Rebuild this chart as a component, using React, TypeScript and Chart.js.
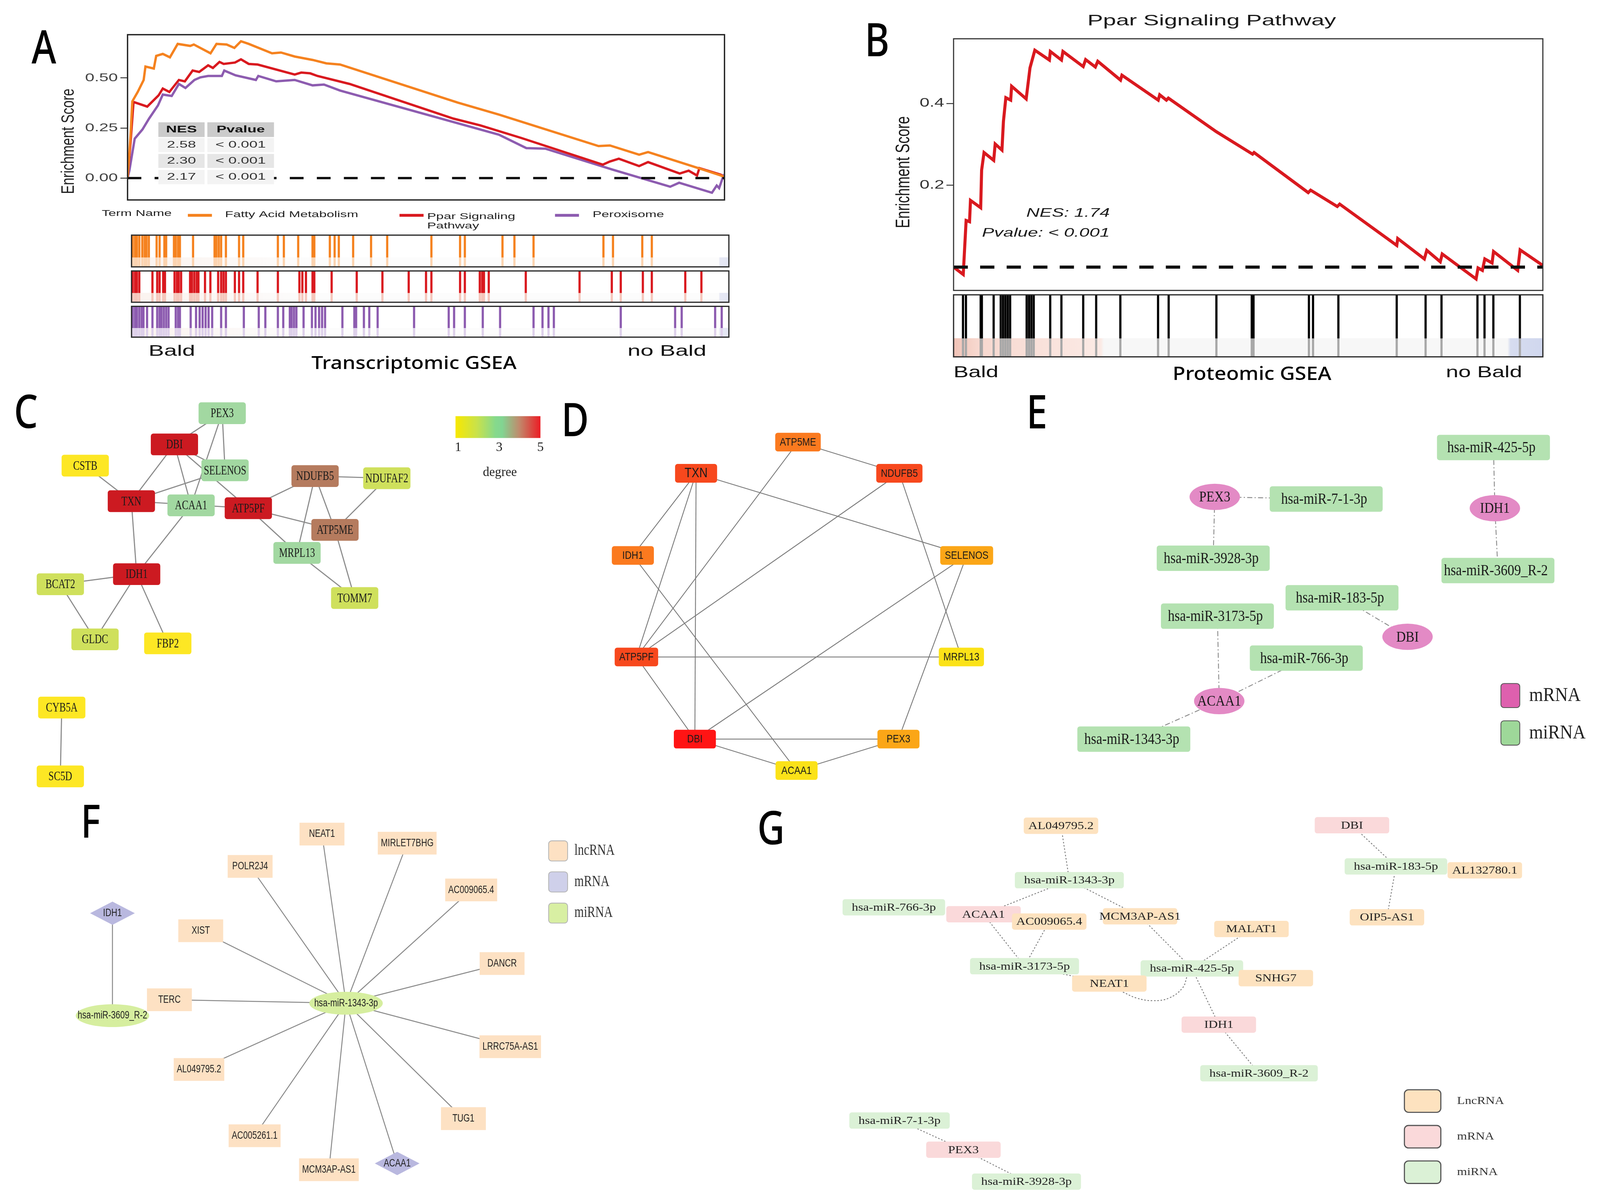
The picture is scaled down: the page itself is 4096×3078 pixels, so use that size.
import React, { useEffect, useRef } from "react";
import { Chart, registerables } from "chart.js";

Chart.register(...registerables);

const VW = 4096;
const VH = 3078;
const S = VW / 1568;
const p = (v: number) => v * S;

const SANS = '"Liberation Sans", Arial, sans-serif';
const SERIF = '"Liberation Serif", "Times New Roman", serif';
const NOTO = '"Noto Sans", "DejaVu Sans", sans-serif';

/* ======================= DATA ======================= */
// ---- Panel A (Transcriptomic GSEA) ----
const termNames = ["Fatty Acid Metabolism", "Ppar Signaling Pathway", "Peroxisome"];
const nesValues = ["2.58", "2.30", "2.17"];
const pValues = ["< 0.001", "< 0.001", "< 0.001"];
const aTickStep = 0.25;

const fattyRank = [0, 0.5, 0.8, 1.7, 2.7, 3.0, 4.4, 4.8, 5.9, 7.1, 8.4, 10.5, 11.1, 13.9, 14.9, 16.6, 17.9, 19.0, 20.3, 24.2, 25.7, 28.0, 31.0, 33.3, 35.6, 55.3, 62.2, 78.9, 80.8, 85.7, 87.2, 95.6, 99.4, 100];
const fattyES = [0, 0.21, 0.383, 0.43, 0.49, 0.557, 0.547, 0.61, 0.62, 0.603, 0.67, 0.66, 0.667, 0.623, 0.67, 0.667, 0.65, 0.683, 0.67, 0.623, 0.627, 0.607, 0.59, 0.573, 0.567, 0.377, 0.317, 0.16, 0.163, 0.117, 0.13, 0.05, 0.013, 0.005];

const pparRank = [0, 0.5, 1.0, 3.3, 5.2, 5.9, 7.0, 8.6, 9.6, 10.9, 12.0, 13.5, 14.3, 15.4, 16.1, 18.0, 19.0, 20.3, 21.8, 28.0, 29.1, 30.6, 31.8, 37.2, 54.6, 59.1, 66.0, 79.6, 80.8, 82.3, 85.7, 87.2, 92.5, 94.0, 95.4, 95.8, 99.4, 100];
const pparES = [0, 0.177, 0.38, 0.357, 0.413, 0.447, 0.43, 0.49, 0.483, 0.537, 0.53, 0.563, 0.55, 0.58, 0.57, 0.577, 0.593, 0.57, 0.567, 0.517, 0.527, 0.523, 0.51, 0.47, 0.297, 0.263, 0.2, 0.067, 0.083, 0.097, 0.06, 0.08, 0.023, 0.037, 0.013, 0.05, 0.017, 0.003];

const peroxRank = [0, 0.3, 1.2, 2.5, 3.6, 5.1, 5.9, 7.4, 8.6, 9.7, 11.2, 12.2, 13.5, 15.8, 16.2, 18.1, 21.5, 21.9, 24.9, 28.0, 31.0, 32.9, 35.6, 62.2, 66.8, 70.0, 81.2, 90.9, 92.4, 97.9, 98.7, 99.1, 99.8, 100];
const peroxES = [0, 0.037, 0.197, 0.243, 0.297, 0.363, 0.417, 0.41, 0.47, 0.45, 0.49, 0.503, 0.51, 0.51, 0.537, 0.513, 0.49, 0.51, 0.483, 0.49, 0.463, 0.467, 0.437, 0.217, 0.15, 0.147, 0.043, -0.043, -0.023, -0.073, -0.037, -0.05, 0.01, 0.0];

const fattyHits = [0.2, 0.6, 0.9, 1.3, 1.8, 2.2, 2.5, 2.9, 4.2, 4.7, 5.5, 5.8, 7.1, 7.4, 7.8, 8.1, 10.3, 13.9, 14.2, 14.6, 15.0, 15.8, 18.0, 18.7, 24.5, 25.5, 27.9, 30.3, 30.6, 33.2, 34.0, 34.7, 37.1, 40.1, 42.8, 50.2, 55.0, 55.8, 62.1, 64.1, 67.3, 79.0, 80.6, 85.5, 87.1];
const pparHits = [0.2, 0.6, 0.9, 1.3, 3.5, 4.3, 4.7, 5.3, 5.6, 7.2, 7.6, 7.9, 8.3, 9.8, 10.1, 10.5, 10.9, 11.2, 12.3, 13.2, 14.5, 15.0, 15.4, 15.8, 17.3, 18.0, 18.7, 21.1, 24.5, 28.1, 28.6, 29.2, 30.3, 30.6, 33.5, 37.7, 42.0, 46.4, 49.3, 50.2, 55.0, 55.8, 58.3, 58.7, 59.0, 59.8, 66.0, 75.0, 80.4, 81.9, 85.6, 87.1, 92.7, 95.4];
const peroxHits = [0.2, 0.6, 0.9, 1.3, 1.7, 2.0, 2.6, 3.5, 4.3, 4.7, 5.0, 5.4, 5.8, 6.2, 7.4, 7.8, 8.1, 9.9, 10.8, 11.4, 11.9, 12.4, 12.9, 13.5, 15.0, 15.8, 18.8, 21.3, 22.4, 24.5, 25.4, 26.5, 26.8, 27.2, 27.6, 28.8, 30.2, 30.8, 31.4, 31.9, 32.4, 35.3, 37.3, 37.6, 38.9, 39.8, 41.2, 47.3, 53.1, 54.0, 55.8, 58.8, 61.7, 67.3, 68.8, 69.8, 70.7, 81.9, 91.0, 92.1, 97.7, 98.8];

// ---- Panel B (Proteomic GSEA) ----
const bTitle = "Ppar Signaling Pathway";
const bNES = "1.74";
const bPvalue = "< 0.001";
const bTickStep = 0.2;
const bRank = [0, 1.64, 2.13, 2.71, 2.87, 4.6, 4.76, 5.17, 6.81, 7.06, 8.21, 8.46, 8.87, 9.69, 9.85, 12.32, 12.56, 12.97, 13.79, 16.26, 16.42, 18.31, 18.56, 22.0, 22.41, 24.06, 24.47, 28.33, 28.57, 34.73, 34.98, 36.12, 36.45, 44.58, 50.74, 50.99, 60.18, 60.59, 65.11, 65.52, 75.21, 75.37, 79.89, 80.3, 82.59, 82.92, 88.67, 89.0, 89.74, 90.15, 91.38, 91.63, 95.73, 96.14, 100];
const bES = [0, -0.018, 0.114, 0.111, 0.163, 0.145, 0.237, 0.28, 0.261, 0.301, 0.286, 0.356, 0.414, 0.408, 0.442, 0.411, 0.439, 0.487, 0.53, 0.506, 0.527, 0.506, 0.527, 0.49, 0.507, 0.489, 0.503, 0.457, 0.469, 0.408, 0.421, 0.408, 0.413, 0.331, 0.276, 0.28, 0.182, 0.188, 0.148, 0.154, 0.053, 0.07, 0.02, 0.041, 0.013, 0.032, -0.029, -0.002, -0.008, 0.02, 0.01, 0.038, -0.008, 0.042, 0.004];
const bHits = [1.6, 2.1, 4.6, 4.8, 6.8, 8.0, 8.4, 8.8, 9.2, 9.6, 12.4, 12.8, 13.2, 13.6, 16.4, 18.3, 22.0, 24.2, 28.3, 34.7, 36.5, 44.6, 50.6, 50.9, 60.3, 61.0, 65.3, 75.2, 80.1, 82.8, 88.9, 90.1, 91.6, 96.1];

// ---- Panels C & D (PPI networks) ----
const hubEdges: [string, string][] = [
  ["TXN", "SELENOS"], ["TXN", "IDH1"], ["TXN", "ATP5PF"], ["TXN", "DBI"],
  ["ATP5ME", "NDUFB5"], ["ATP5ME", "ATP5PF"], ["NDUFB5", "ATP5PF"], ["NDUFB5", "MRPL13"],
  ["IDH1", "ACAA1"], ["SELENOS", "DBI"], ["SELENOS", "PEX3"], ["ATP5PF", "MRPL13"],
  ["ATP5PF", "DBI"], ["DBI", "PEX3"], ["DBI", "ACAA1"], ["PEX3", "ACAA1"],
];
const cExtraEdges: [string, string][] = [
  ["CSTB", "TXN"], ["NDUFB5", "NDUFAF2"], ["NDUFAF2", "ATP5ME"], ["ATP5ME", "TOMM7"],
  ["MRPL13", "TOMM7"], ["IDH1", "BCAT2"], ["IDH1", "GLDC"], ["IDH1", "FBP2"],
  ["BCAT2", "GLDC"], ["CYB5A", "SC5D"],
];
const cNodes: [string, number, number][] = [
  ["PEX3", 217.7, 405.1], ["DBI", 170.9, 435.7], ["CSTB", 83.5, 456.5], ["SELENOS", 220.5, 461.1],
  ["NDUFB5", 308.7, 466.7], ["NDUFAF2", 379.0, 468.8], ["TXN", 128.7, 491.3], ["ACAA1", 187.2, 495.4],
  ["ATP5PF", 243.3, 498.2], ["ATP5ME", 328.2, 519.4], ["MRPL13", 291.0, 542.0], ["IDH1", 133.9, 562.8],
  ["BCAT2", 59.1, 572.7], ["TOMM7", 347.5, 586.2], ["GLDC", 93.1, 626.7], ["FBP2", 164.4, 630.6],
  ["CYB5A", 60.5, 693.5], ["SC5D", 59.1, 760.9],
];
const degreeTicks = [1, 3, 5];
// [gene, x, y, hub rank]
const dNodes: [string, number, number, number][] = [
  ["ATP5ME", 782.0, 433.3, 5], ["TXN", 682.1, 463.9, 2], ["NDUFB5", 881.4, 463.9, 3],
  ["IDH1", 620.1, 544.4, 6], ["SELENOS", 947.4, 544.4, 7], ["ATP5PF", 623.6, 643.9, 4],
  ["MRPL13", 942.2, 643.9, 9], ["DBI", 680.9, 724.4, 1], ["PEX3", 880.5, 724.4, 8],
  ["ACAA1", 780.6, 755.2, 10],
];

// ---- Panel E (mRNA-miRNA) ----
const eMirna: [string, number, number][] = [
  ["hsa-miR-425-5p", 1463.6, 438.6], ["hsa-miR-7-1-3p", 1299.7, 489.1], ["hsa-miR-3928-3p", 1189.0, 547.1],
  ["hsa-miR-3609_R-2", 1468.0, 559.2], ["hsa-miR-183-5p", 1315.2, 585.9], ["hsa-miR-3173-5p", 1193.1, 603.9],
  ["hsa-miR-766-3p", 1280.2, 645.0], ["hsa-miR-1343-3p", 1111.2, 724.4],
];
const eMrna: [string, number, number][] = [
  ["PEX3", 1190.5, 487.0], ["IDH1", 1465.0, 498.1], ["DBI", 1379.4, 624.1], ["ACAA1", 1194.9, 687.1],
];
const eEdges: [string, string][] = [
  ["PEX3", "hsa-miR-7-1-3p"], ["PEX3", "hsa-miR-3928-3p"], ["IDH1", "hsa-miR-425-5p"], ["IDH1", "hsa-miR-3609_R-2"],
  ["DBI", "hsa-miR-183-5p"], ["ACAA1", "hsa-miR-3173-5p"], ["ACAA1", "hsa-miR-766-3p"], ["ACAA1", "hsa-miR-1343-3p"],
];

// ---- Panel F (ceRNA star) ----
const fLnc: [string, number, number][] = [
  ["NEAT1", 315.5, 817.5], ["MIRLET7BHG", 399.0, 826.4], ["POLR2J4", 245.1, 849.2], ["AC009065.4", 461.7, 872.3],
  ["XIST", 196.7, 912.3], ["DANCR", 492.0, 944.5], ["TERC", 166.0, 980.0], ["LRRC75A-AS1", 500.0, 1026.1],
  ["AL049795.2", 195.0, 1048.4], ["TUG1", 454.1, 1096.6], ["AC005261.1", 249.5, 1113.4], ["MCM3AP-AS1", 322.3, 1146.7],
];
const fMrna: [string, number, number][] = [["IDH1", 110.2, 895.1], ["ACAA1", 389.2, 1140.6]];
const fMirna: [string, number, number][] = [["hsa-miR-1343-3p", 339.1, 983.4], ["hsa-miR-3609_R-2", 110.2, 995.6]];
const fEdges: [string, string][] = [
  ["NEAT1", "hsa-miR-1343-3p"], ["MIRLET7BHG", "hsa-miR-1343-3p"], ["POLR2J4", "hsa-miR-1343-3p"],
  ["AC009065.4", "hsa-miR-1343-3p"], ["XIST", "hsa-miR-1343-3p"], ["DANCR", "hsa-miR-1343-3p"],
  ["TERC", "hsa-miR-1343-3p"], ["LRRC75A-AS1", "hsa-miR-1343-3p"], ["AL049795.2", "hsa-miR-1343-3p"],
  ["TUG1", "hsa-miR-1343-3p"], ["AC005261.1", "hsa-miR-1343-3p"], ["MCM3AP-AS1", "hsa-miR-1343-3p"],
  ["ACAA1", "hsa-miR-1343-3p"], ["IDH1", "hsa-miR-3609_R-2"],
];

// ---- Panel G (ceRNA network) ----
const gNodes: [string, number, number, string][] = [
  ["AL049795.2", 1039.7, 809.3, "lnc"], ["DBI", 1324.9, 808.8, "mrna"], ["hsa-miR-1343-3p", 1047.9, 862.7, "mirna"],
  ["hsa-miR-183-5p", 1368.0, 849.2, "mirna"], ["AL132780.1", 1455.1, 853.0, "lnc"], ["hsa-miR-766-3p", 875.9, 889.3, "mirna"],
  ["ACAA1", 963.8, 896.1, "mrna"], ["AC009065.4", 1028.2, 903.3, "lnc"], ["MCM3AP-AS1", 1117.2, 898.1, "lnc"],
  ["OIP5-AS1", 1359.2, 899.1, "lnc"], ["MALAT1", 1226.4, 910.6, "lnc"], ["hsa-miR-3173-5p", 1004.0, 947.1, "mirna"],
  ["hsa-miR-425-5p", 1168.0, 949.3, "mirna"], ["SNHG7", 1250.3, 958.8, "lnc"], ["NEAT1", 1087.1, 964.1, "lnc"],
  ["IDH1", 1194.4, 1004.4, "mrna"], ["hsa-miR-3609_R-2", 1233.8, 1052.1, "mirna"], ["hsa-miR-7-1-3p", 881.5, 1098.5, "mirna"],
  ["PEX3", 944.1, 1127.1, "mrna"], ["hsa-miR-3928-3p", 1005.9, 1158.4, "mirna"],
];
const gEdges: [string, string][] = [
  ["AL049795.2", "hsa-miR-1343-3p"], ["hsa-miR-1343-3p", "ACAA1"], ["hsa-miR-1343-3p", "MCM3AP-AS1"],
  ["ACAA1", "hsa-miR-3173-5p"], ["AC009065.4", "hsa-miR-3173-5p"], ["MCM3AP-AS1", "hsa-miR-425-5p"],
  ["MALAT1", "hsa-miR-425-5p"], ["hsa-miR-425-5p", "IDH1"], ["IDH1", "hsa-miR-3609_R-2"],
  ["hsa-miR-3173-5p", "NEAT1"], ["DBI", "hsa-miR-183-5p"], ["hsa-miR-183-5p", "OIP5-AS1"],
  ["hsa-miR-7-1-3p", "PEX3"], ["PEX3", "hsa-miR-3928-3p"],
];
// curved NEAT1 -> hsa-miR-425-5p edge route
const gCurveRoute: [number, number][] = [[1100.4, 972.5], [1113.7, 978.3], [1129.7, 980.9], [1145.7, 978.3], [1159.0, 968.2], [1163.2, 957.3]];

/* ======================= STYLE ======================= */
const COL = { fatty: "#f5821f", ppar: "#d9191f", perox: "#8d5cb0" };
const PALE = { fatty: "#fbd3b0", ppar: "#f5c6bb", perox: "#ddd0ea" };
const degColor: Record<number, string> = { 1: "#fde724", 2: "#cfe05c", 3: "#a2d8a1", 4: "#b57b5e", 5: "#cc1a21" };
const dRankColors = ["#ff1414", "#f7481d", "#f7481d", "#f7481d", "#fb7a1f", "#fb7a1f", "#fba617", "#fba617", "#fbe218", "#fbe218"];

/* ======================= HELPERS ======================= */
type R4 = { x0: number; y0: number; x1: number; y1: number };
type TOpt = { size: number; family?: string; weight?: string; style?: string; align?: CanvasTextAlign; base?: CanvasTextBaseline; sx?: number; sy?: number; color?: string; rot?: number };

function fontOf(o: TOpt) {
  return `${o.style || "normal"} ${o.weight || "normal"} ${o.size}px ${o.family || SANS}`;
}
function T(ctx: CanvasRenderingContext2D, s: string, x: number, y: number, o: TOpt) {
  ctx.save();
  ctx.font = fontOf(o);
  ctx.fillStyle = o.color || "#111";
  ctx.textAlign = o.align || "center";
  ctx.textBaseline = o.base || "middle";
  ctx.translate(x, y);
  if (o.rot) ctx.rotate(o.rot);
  ctx.scale(o.sx || 1, o.sy || 1);
  ctx.fillText(s, 0, 0);
  ctx.restore();
}
function TW(ctx: CanvasRenderingContext2D, s: string, o: TOpt) {
  ctx.save();
  ctx.font = fontOf(o);
  const w = ctx.measureText(s).width * (o.sx || 1);
  ctx.restore();
  return w;
}
function letter(ctx: CanvasRenderingContext2D, ch: string, x: number, y: number) {
  T(ctx, ch, x, y, { size: p(45), family: NOTO, weight: "500", base: "alphabetic", sx: 0.82, color: "#000" });
}
function box(ctx: CanvasRenderingContext2D, cx: number, cy: number, w: number, h: number, fill: string, r = 0, stroke?: string, lw?: number) {
  ctx.save();
  ctx.beginPath();
  const anyCtx = ctx as any;
  if (r > 0 && anyCtx.roundRect) anyCtx.roundRect(cx - w / 2, cy - h / 2, w, h, r);
  else ctx.rect(cx - w / 2, cy - h / 2, w, h);
  ctx.fillStyle = fill;
  ctx.fill();
  if (stroke) {
    ctx.strokeStyle = stroke;
    ctx.lineWidth = lw || 1;
    ctx.stroke();
  }
  ctx.restore();
}
function ellipse(ctx: CanvasRenderingContext2D, cx: number, cy: number, rx: number, ry: number, fill: string) {
  ctx.save();
  ctx.beginPath();
  ctx.ellipse(cx, cy, rx, ry, 0, 0, Math.PI * 2);
  ctx.fillStyle = fill;
  ctx.fill();
  ctx.restore();
}
function diamond(ctx: CanvasRenderingContext2D, cx: number, cy: number, hw: number, hh: number, fill: string) {
  ctx.save();
  ctx.beginPath();
  ctx.moveTo(cx, cy - hh);
  ctx.lineTo(cx + hw, cy);
  ctx.lineTo(cx, cy + hh);
  ctx.lineTo(cx - hw, cy);
  ctx.closePath();
  ctx.fillStyle = fill;
  ctx.fill();
  ctx.restore();
}
function loc(R: R4) {
  const left = Math.round(p(R.x0));
  const top = Math.round(p(R.y0));
  return {
    left, top,
    w: Math.round(p(R.x1)) - left,
    h: Math.round(p(R.y1)) - top,
    x: (v: number) => p(v) - left,
    y: (v: number) => p(v) - top,
  };
}
function baseOpts(): any {
  return {
    responsive: false,
    maintainAspectRatio: false,
    animation: false,
    devicePixelRatio: 1,
    events: [],
    plugins: { legend: { display: false }, tooltip: { enabled: false }, title: { display: false } },
    elements: { point: { radius: 0 } },
  };
}
const ser = (xs: number[], ys: number[]) => xs.map((x, i) => ({ x, y: ys[i] }));
function posMap(...lists: [string, number, number, ...any[]][][]) {
  const m: Record<string, [number, number]> = {};
  lists.forEach((l) => l.forEach((n) => { m[n[0]] = [n[1], n[2]]; }));
  return m;
}
function edgeLines(edges: [string, string][], pm: Record<string, [number, number]>, style: any) {
  return edges.map(([a, b]) => ({ pts: [pm[a], pm[b]], ...style }));
}

/* ======================= CHART FACTORIES ======================= */
const RA: R4 = { x0: 0, y0: 0, x1: 760, y1: 229 };
const RR1: R4 = { x0: 100, y0: 229, x1: 740, y1: 264 };
const RR2: R4 = { x0: 100, y0: 264, x1: 740, y1: 298.5 };
const RR3: R4 = { x0: 100, y0: 298.5, x1: 740, y1: 376 };
const RB: R4 = { x0: 780, y0: 0, x1: 1560, y1: 287 };
const RBR: R4 = { x0: 900, y0: 287, x1: 1560, y1: 382 };
const RC: R4 = { x0: 0, y0: 376, x1: 545, y1: 780 };
const RD: R4 = { x0: 545, y0: 382, x1: 995, y1: 780 };
const RE: R4 = { x0: 995, y0: 382, x1: 1568, y1: 780 };
const RF: R4 = { x0: 0, y0: 780, x1: 720, y1: 1178 };
const RG: R4 = { x0: 720, y0: 780, x1: 1568, y1: 1178 };

function makeA(L: any) {
  const bx = { l: 125, t: 34, r: 710, b: 196 };
  const axW = p(8);
  return {
    type: "scatter",
    data: {
      datasets: [
        { data: [{ x: 0, y: 0 }, { x: 100, y: 0 }], showLine: true, borderColor: "#111", borderWidth: p(2.3), borderDash: [p(13.5), p(13)], pointRadius: 0 },
        { data: ser(fattyRank, fattyES), showLine: true, borderColor: COL.fatty, borderWidth: p(2.3), pointRadius: 0 },
        { data: ser(pparRank, pparES), showLine: true, borderColor: COL.ppar, borderWidth: p(2.3), pointRadius: 0 },
        { data: ser(peroxRank, peroxES), showLine: true, borderColor: COL.perox, borderWidth: p(2.3), pointRadius: 0 },
      ],
    },
    options: {
      ...baseOpts(),
      layout: { padding: { left: L.x(bx.l) - axW, top: L.y(bx.t), right: L.w - L.x(bx.r), bottom: L.h - L.y(bx.b) } },
      scales: {
        x: { type: "linear", display: false, min: 0, max: 100, offset: false },
        y: {
          type: "linear", min: -0.109, max: 0.716,
          afterFit: (s: any) => { s.width = axW; },
          ticks: { display: false, stepSize: aTickStep, includeBounds: false },
          grid: { drawOnChartArea: false, drawTicks: true, tickLength: p(7), color: "#333", lineWidth: p(0.9) },
          border: { display: false },
        },
      },
    },
    plugins: [{
      id: "panelA",
      afterDraw: (ch: any) => {
        const ctx = ch.ctx as CanvasRenderingContext2D;
        const ca = ch.chartArea;
        const ys = ch.scales.y;
        ctx.save();
        ctx.strokeStyle = "#222";
        ctx.lineWidth = p(1.3);
        ctx.strokeRect(ca.left, ca.top, ca.right - ca.left, ca.bottom - ca.top);
        ctx.restore();
        ys.ticks.forEach((t: any) => T(ctx, t.value.toFixed(2), L.x(115.5), ys.getPixelForValue(t.value), { size: p(11), align: "right", sx: 1.5, color: "#444" }));
        T(ctx, "Enrichment Score", L.x(67.5), L.y(138.5), { size: p(13), rot: -Math.PI / 2, sy: 1.35, color: "#222" });
        letter(ctx, "A", L.x(43), L.y(62));
        // NES / Pvalue table
        const cols = [[155.2, 200.5], [203.2, 268.5]];
        const rows = [[119.9, 134.3], [135.3, 149.2], [150.9, 164.6], [166.6, 180.6]];
        const headers = ["NES", "Pvalue"];
        const rowFill = ["#cbcbcb", "#f3f3f3", "#e6e6e6", "#f3f3f3"];
        rows.forEach((r, ri) => cols.forEach((c, ci) => {
          ctx.fillStyle = rowFill[ri];
          ctx.fillRect(L.x(c[0]), L.y(r[0]), p(c[1] - c[0]), p(r[1] - r[0]));
          const txt = ri === 0 ? headers[ci] : (ci === 0 ? nesValues : pValues)[ri - 1];
          T(ctx, txt, L.x((c[0] + c[1]) / 2), L.y((r[0] + r[1]) / 2), { size: p(9.2), sx: 1.6, weight: ri === 0 ? "bold" : "normal", color: ri === 0 ? "#111" : "#333" });
        }));
        // legend
        T(ctx, "Term Name", L.x(99.7), L.y(209.4), { size: p(8.3), sx: 1.6, align: "left", color: "#222" });
        const lg: [number, number, number, string, string][] = [
          [184.1, 207.7, 220.5, COL.fatty, termNames[0]],
          [391.5, 415.1, 418.6, COL.ppar, termNames[1]],
          [543.9, 567.4, 580.7, COL.perox, termNames[2]],
        ];
        lg.forEach(([a, b, tx, col, name], i) => {
          ctx.save();
          ctx.strokeStyle = col;
          ctx.lineWidth = p(2.8);
          ctx.beginPath();
          ctx.moveTo(L.x(a), L.y(211.1));
          ctx.lineTo(L.x(b), L.y(211.1));
          ctx.stroke();
          ctx.restore();
          if (i === 1) {
            const k = name.lastIndexOf(" ");
            T(ctx, name.slice(0, k), L.x(tx), L.y(212.4), { size: p(8.3), sx: 1.6, align: "left", color: "#222" });
            T(ctx, name.slice(k + 1), L.x(tx), L.y(221.6), { size: p(8.3), sx: 1.6, align: "left", color: "#222" });
          } else {
            T(ctx, name, L.x(tx), L.y(210.4), { size: p(8.3), sx: 1.6, align: "left", color: "#222" });
          }
        });
      },
    }],
  };
}

function makeRug(L: any, R: R4, bx: any, hits: number[], col: string, pale: string, band: string, labels?: (ctx: CanvasRenderingContext2D) => void) {
  return {
    type: "bar",
    data: {
      datasets: [
        { data: hits.map((x) => ({ x, y: [0.3, 1] })), backgroundColor: col, barThickness: p(1.9), grouped: false, borderWidth: 0 },
        { data: hits.map((x) => ({ x, y: [0, 0.3] })), backgroundColor: pale, barThickness: p(1.9), grouped: false, borderWidth: 0 },
      ],
    },
    options: {
      ...baseOpts(),
      layout: { padding: { left: L.x(bx.l), top: L.y(bx.t), right: L.w - L.x(bx.r), bottom: L.h - L.y(bx.b) } },
      scales: {
        x: { type: "linear", display: false, min: 0, max: 100, offset: false },
        y: { type: "linear", display: false, min: 0, max: 1 },
      },
    },
    plugins: [{
      id: "rug",
      beforeDatasetsDraw: (ch: any) => {
        const ctx = ch.ctx as CanvasRenderingContext2D;
        const ca = ch.chartArea;
        const yb = ch.scales.y.getPixelForValue(0.3);
        ctx.save();
        ctx.fillStyle = "#ffffff";
        ctx.fillRect(ca.left, ca.top, ca.right - ca.left, ca.bottom - ca.top);
        const g = ctx.createLinearGradient(ca.left, 0, ca.right, 0);
        if (band === "b") {
          g.addColorStop(0, "#f0c2b6");
          g.addColorStop(0.04, "#f7d8cf");
          g.addColorStop(0.25, "#fbeae5");
          g.addColorStop(0.255, "#f7f7f7");
          g.addColorStop(0.94, "#f7f7f7");
          g.addColorStop(0.945, "#d6dcef");
          g.addColorStop(1, "#d0d7ee");
        } else {
          g.addColorStop(0, "#fbf3ef");
          g.addColorStop(0.3, "#fcfcfc");
          g.addColorStop(0.983, "#fcfcfc");
          g.addColorStop(0.985, "#e6e8f4");
          g.addColorStop(1, "#e3e6f3");
        }
        ctx.fillStyle = g;
        ctx.fillRect(ca.left, yb, ca.right - ca.left, ca.bottom - yb);
        ctx.restore();
      },
      afterDraw: (ch: any) => {
        const ctx = ch.ctx as CanvasRenderingContext2D;
        const ca = ch.chartArea;
        ctx.save();
        ctx.strokeStyle = "#2a2a2a";
        ctx.lineWidth = p(1.2);
        ctx.strokeRect(ca.left, ca.top, ca.right - ca.left, ca.bottom - ca.top);
        ctx.restore();
        if (labels) labels(ctx);
      },
    }],
  };
}

function makeB(L: any) {
  const bx = { l: 934.5, t: 38, r: 1512, b: 284.7 };
  const axW = p(8);
  return {
    type: "scatter",
    data: {
      datasets: [
        { data: [{ x: 0, y: 0 }, { x: 100, y: 0 }], showLine: true, borderColor: "#111", borderWidth: p(3), borderDash: [p(14), p(12)], pointRadius: 0 },
        { data: ser(bRank, bES), showLine: true, borderColor: COL.ppar, borderWidth: p(3), pointRadius: 0 },
      ],
    },
    options: {
      ...baseOpts(),
      layout: { padding: { left: L.x(bx.l) - axW, top: L.y(bx.t), right: L.w - L.x(bx.r), bottom: L.h - L.y(bx.b) } },
      scales: {
        x: { type: "linear", display: false, min: 0, max: 100, offset: false },
        y: {
          type: "linear", min: -0.057, max: 0.558,
          afterFit: (s: any) => { s.width = axW; },
          afterBuildTicks: (s: any) => { s.ticks = s.ticks.filter((t: any) => t.value > 0.05); },
          ticks: { display: false, stepSize: bTickStep, includeBounds: false },
          grid: { drawOnChartArea: false, drawTicks: true, tickLength: p(7), color: "#333", lineWidth: p(0.9) },
          border: { display: false },
        },
      },
    },
    plugins: [{
      id: "panelB",
      afterDraw: (ch: any) => {
        const ctx = ch.ctx as CanvasRenderingContext2D;
        const ca = ch.chartArea;
        const ys = ch.scales.y;
        ctx.save();
        ctx.strokeStyle = "#333";
        ctx.lineWidth = p(1.1);
        ctx.strokeRect(ca.left, ca.top, ca.right - ca.left, ca.bottom - ca.top);
        ctx.restore();
        ys.ticks.forEach((t: any) => T(ctx, t.value.toFixed(1), L.x(925.4), ys.getPixelForValue(t.value), { size: p(12), align: "right", sx: 1.45, color: "#333" }));
        T(ctx, bTitle, L.x(1187.5), L.y(20.8), { size: p(15), sx: 1.53, color: "#1a1a1a" });
        T(ctx, "Enrichment Score", L.x(886), L.y(168.8), { size: p(13.8), rot: -Math.PI / 2, sy: 1.4, color: "#1a1a1a" });
        T(ctx, "NES: " + bNES, L.x(1087.6), L.y(209.1), { size: p(12.3), style: "italic", align: "right", sx: 1.46, color: "#1a1a1a" });
        T(ctx, "Pvalue: " + bPvalue, L.x(1087.6), L.y(228.7), { size: p(12.3), style: "italic", align: "right", sx: 1.46, color: "#1a1a1a" });
        letter(ctx, "B", L.x(859.5), L.y(55));
      },
    }],
  };
}

function netChart(R: R4, lines: any[], draw: (ctx: CanvasRenderingContext2D, X: (v: number) => number, Y: (v: number) => number) => void) {
  return {
    type: "scatter",
    data: {
      datasets: lines.map((l) => ({
        data: l.pts.map((q: [number, number]) => ({ x: q[0], y: q[1] })),
        showLine: true,
        borderColor: l.color,
        borderWidth: l.width,
        borderDash: l.dash || [],
        tension: l.tension || 0,
        pointRadius: 0,
        fill: false,
      })),
    },
    options: {
      ...baseOpts(),
      layout: { padding: 0 },
      scales: {
        x: { type: "linear", display: false, min: R.x0, max: R.x1 },
        y: { type: "linear", display: false, min: R.y0, max: R.y1, reverse: true },
      },
    },
    plugins: [{
      id: "net",
      afterDatasetsDraw: (ch: any) => {
        draw(ch.ctx, (v) => ch.scales.x.getPixelForValue(v), (v) => ch.scales.y.getPixelForValue(v));
      },
    }],
  };
}

function makeC() {
  const edges = [...hubEdges, ...cExtraEdges];
  const pm = posMap(cNodes);
  const deg: Record<string, number> = {};
  edges.forEach(([a, b]) => { deg[a] = (deg[a] || 0) + 1; deg[b] = (deg[b] || 0) + 1; });
  const lines = edgeLines(edges, pm, { color: "#8c8c8c", width: p(1.1) });
  return netChart(RC, lines, (ctx, X, Y) => {
    cNodes.forEach(([n, x, y]) => {
      box(ctx, X(x), Y(y), p(46.3), p(21.3), degColor[Math.min(5, deg[n] || 1)], p(2.5));
      T(ctx, n, X(x), Y(y) + p(0.6), { size: p(12.5), family: SERIF, sx: 0.76, color: "#1a1a1a" });
    });
    const gx0 = 446.3, gx1 = 529.5;
    const g = ctx.createLinearGradient(X(gx0), 0, X(gx1), 0);
    g.addColorStop(0, "#f8e800");
    g.addColorStop(0.25, "#c9e24a");
    g.addColorStop(0.47, "#86d98c");
    g.addColorStop(0.55, "#82d592");
    g.addColorStop(0.75, "#c08a6c");
    g.addColorStop(1, "#ec1c24");
    ctx.fillStyle = g;
    ctx.fillRect(X(gx0), Y(408), X(gx1) - X(gx0), Y(429.4) - Y(408));
    const dmin = degreeTicks[0], dmax = degreeTicks[degreeTicks.length - 1];
    degreeTicks.forEach((d) => {
      const xx = gx0 + 2.5 + ((d - dmin) / (dmax - dmin)) * (gx1 - gx0 - 2.5);
      T(ctx, String(d), X(xx), Y(438.9), { size: p(13), family: SERIF, color: "#222" });
    });
    T(ctx, "degree", X(489.8), Y(463.3), { size: p(12.5), family: SERIF, color: "#222" });
    letter(ctx, "C", X(25.4), Y(419.6));
  });
}

function makeD() {
  const pm = posMap(dNodes);
  const lines = edgeLines(hubEdges, pm, { color: "#7a7a7a", width: p(0.85) });
  return netChart(RD, lines, (ctx, X, Y) => {
    dNodes.forEach(([n, x, y, rank]) => {
      const fs = n === "TXN" ? 13.4 : 10.8;
      const o: TOpt = { size: p(fs), sx: 0.84, color: "#1a1a1a" };
      const w = Math.max(p(41.2), TW(ctx, n, o) + p(9));
      box(ctx, X(x), Y(y), w, p(18.3), dRankColors[rank - 1], p(2.5));
      T(ctx, n, X(x), Y(y) + p(0.3), o);
    });
    letter(ctx, "D", X(563.5), Y(427.4));
  });
}

function makeE() {
  const pm = posMap(eMirna, eMrna);
  const lines = edgeLines(eEdges, pm, { color: "#8f8f8f", width: p(0.9), dash: [p(5), p(2.2), p(1.2), p(2.2)] });
  return netChart(RE, lines, (ctx, X, Y) => {
    eMirna.forEach(([n, x, y]) => {
      box(ctx, X(x), Y(y), p(110.7), p(24.9), "#b4e2b1", p(2.5));
      T(ctx, n, X(x) - p(2), Y(y) + p(0.8), { size: p(15), family: SERIF, sx: 0.88, color: "#1a1a1a" });
    });
    eMrna.forEach(([n, x, y]) => {
      ellipse(ctx, X(x), Y(y), p(24.7), p(12.9), "#e38ac5");
      T(ctx, n, X(x), Y(y) + p(0.8), { size: p(14.6), family: SERIF, sx: 0.88, color: "#1a1a1a" });
    });
    const leg: [string, string, number, number][] = [["mRNA", "#de60ae", 669.9, 693.5], ["miRNA", "#9ed899", 706.4, 730.3]];
    leg.forEach(([t, c, a, b]) => {
      box(ctx, (X(1470.9) + X(1489.4)) / 2, (Y(a) + Y(b)) / 2, X(1489.4) - X(1470.9), Y(b) - Y(a), c, p(3), "#555", p(0.8));
      T(ctx, t, X(1498.6), (Y(a) + Y(b)) / 2 + p(0.5), { size: p(19), family: SERIF, sx: 0.92, align: "left", color: "#222" });
    });
    letter(ctx, "E", X(1016.2), Y(419.7));
  });
}

function makeF() {
  const pm = posMap(fLnc, fMrna, fMirna);
  const lines = edgeLines(fEdges, pm, { color: "#8a8a8a", width: p(0.95) });
  return netChart(RF, lines, (ctx, X, Y) => {
    const o: TOpt = { size: p(10.5), sx: 0.77, color: "#222" };
    fLnc.forEach(([n, x, y]) => {
      const w = Math.max(p(44), TW(ctx, n, o) + p(6));
      box(ctx, X(x), Y(y), w, p(22.3), "#fde1c3");
      T(ctx, n, X(x), Y(y), o);
    });
    fMrna.forEach(([n, x, y]) => {
      diamond(ctx, X(x), Y(y), p(21.9), p(11.4), "#b9b8df");
      T(ctx, n, X(x), Y(y), o);
    });
    fMirna.forEach(([n, x, y]) => {
      ellipse(ctx, X(x), Y(y), p(36), p(11.2), "#d6ee9f");
      T(ctx, n, X(x), Y(y), o);
    });
    const leg: [string, string, number, number][] = [["lncRNA", "#fde1c3", 824.1, 843.9], ["mRNA", "#cfd0ea", 854.5, 874.3], ["miRNA", "#d8efa3", 885.2, 904.8]];
    leg.forEach(([t, c, a, b]) => {
      box(ctx, (X(537.6) + X(556.2)) / 2, (Y(a) + Y(b)) / 2, X(556.2) - X(537.6), Y(b) - Y(a), c, p(3), "#b5b5b5", p(0.8));
      T(ctx, t, X(562.9), (Y(a) + Y(b)) / 2, { size: p(15), family: SERIF, sx: 0.79, align: "left", color: "#333" });
    });
    letter(ctx, "F", X(88.8), Y(821));
  });
}

function makeG() {
  const pm = posMap(gNodes);
  const style = { color: "#7b7b7b", width: p(0.85), dash: [p(1.5), p(1.7)] };
  const lines = [...edgeLines(gEdges, pm, style), { pts: gCurveRoute, ...style, tension: 0.4 }];
  const fills: Record<string, string> = { lnc: "#fde2bf", mrna: "#fad9da", mirna: "#dbf1d6" };
  return netChart(RG, lines, (ctx, X, Y) => {
    const o: TOpt = { size: p(10.5), family: SERIF, sx: 1.2, color: "#222" };
    gNodes.forEach(([n, x, y, t]) => {
      const w = t === "mirna" ? TW(ctx, n, o) + p(18) : p(73);
      box(ctx, X(x), Y(y), w, p(16), fills[t], p(2.5));
      T(ctx, n, X(x), Y(y) + p(0.5), o);
    });
    const leg: [string, string, number, number][] = [["LncRNA", fills.lnc, 1068.3, 1090.4], ["mRNA", fills.mrna, 1103.3, 1125.4], ["miRNA", fills.mirna, 1138.1, 1160.2]];
    leg.forEach(([t, c, a, b]) => {
      box(ctx, (X(1376.3) + X(1412)) / 2, (Y(a) + Y(b)) / 2, X(1412) - X(1376.3), Y(b) - Y(a), c, p(4), "#555", p(1.1));
      T(ctx, t, X(1427.9), (Y(a) + Y(b)) / 2, { size: p(10.5), family: SERIF, sx: 1.2, align: "left", color: "#333" });
    });
    letter(ctx, "G", X(755.5), Y(827.4));
  });
}

/* ======================= COMPONENTS ======================= */
function ChartBox({ R, make }: { R: R4; make: (L: any) => any }) {
  const ref = useRef<HTMLCanvasElement | null>(null);
  const L = loc(R);
  useEffect(() => {
    const ch = new Chart(ref.current as HTMLCanvasElement, make(L));
    return () => ch.destroy();
  }, []);
  return (
    <canvas
      ref={ref}
      width={L.w}
      height={L.h}
      style={{ position: "absolute", left: L.left, top: L.top, width: L.w, height: L.h }}
    />
  );
}

const boxR1 = { l: 128.9, t: 230.5, r: 714.3, b: 261.6 };
const boxR2 = { l: 128.9, t: 265.6, r: 714.3, b: 296.3 };
const boxR3 = { l: 128.9, t: 300.3, r: 714.3, b: 330.5 };
const boxBR = { l: 934.5, t: 289, r: 1512, b: 349.8 };

export default function App() {
  return (
    <div style={{ position: "absolute", left: 0, top: 0, width: VW, height: VH, background: "#fff", overflow: "hidden" }}>
      <ChartBox R={RA} make={(L) => makeA(L)} />
      <ChartBox R={RR1} make={(L) => makeRug(L, RR1, boxR1, fattyHits, COL.fatty, PALE.fatty, "a")} />
      <ChartBox R={RR2} make={(L) => makeRug(L, RR2, boxR2, pparHits, COL.ppar, PALE.ppar, "a")} />
      <ChartBox
        R={RR3}
        make={(L) => makeRug(L, RR3, boxR3, peroxHits, COL.perox, PALE.perox, "a", (ctx) => {
          T(ctx, "Bald", L.x(145.6), L.y(344.5), { size: p(15.2), sx: 1.5, align: "left", color: "#111" });
          T(ctx, "no Bald", L.x(615), L.y(344.5), { size: p(15.2), sx: 1.5, align: "left", color: "#111" });
          T(ctx, "Transcriptomic GSEA", L.x(405.7), L.y(357), { size: p(17), family: NOTO, weight: "500", sx: 1.2, color: "#000" });
        })}
      />
      <ChartBox R={RB} make={(L) => makeB(L)} />
      <ChartBox
        R={RBR}
        make={(L) => makeRug(L, RBR, boxBR, bHits, "#000000", "#a8a8a8", "b", (ctx) => {
          T(ctx, "Bald", L.x(934.4), L.y(365.7), { size: p(15.4), sx: 1.43, align: "left", color: "#111" });
          T(ctx, "no Bald", L.x(1417), L.y(365.7), { size: p(15.4), sx: 1.43, align: "left", color: "#111" });
          T(ctx, "Proteomic GSEA", L.x(1227), L.y(367.4), { size: p(18), family: NOTO, weight: "500", sx: 1.13, color: "#000" });
        })}
      />
      <ChartBox R={RC} make={() => makeC()} />
      <ChartBox R={RD} make={() => makeD()} />
      <ChartBox R={RE} make={() => makeE()} />
      <ChartBox R={RF} make={() => makeF()} />
      <ChartBox R={RG} make={() => makeG()} />
    </div>
  );
}
